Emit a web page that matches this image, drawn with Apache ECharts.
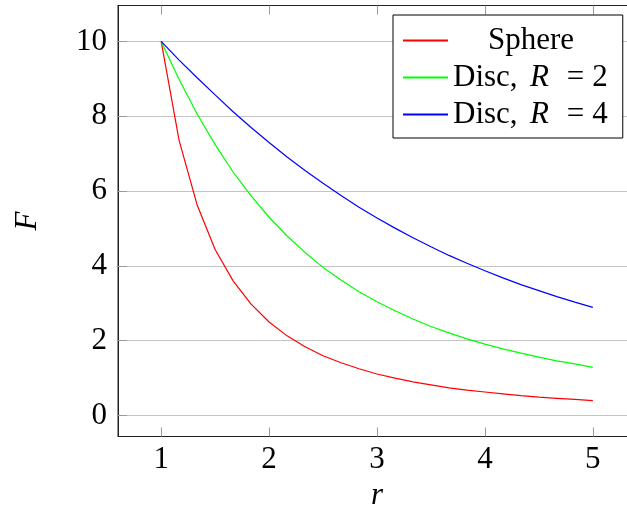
<!DOCTYPE html>
<html>
<head>
<meta charset="utf-8">
<script src="https://cdn.jsdelivr.net/npm/echarts@6/dist/echarts.min.js"></script>
<style>
  html, body { margin: 0; padding: 0; background: #fff; }
  #chart { width: 627px; height: 505px; }
</style>
</head>
<body>
<div id="chart"></div>
<script>
// sample positions along r (25 samples, 1..5)
const rValues = [1, 1.1667, 1.3333, 1.5, 1.6667, 1.8333, 2, 2.1667, 2.3333, 2.5, 2.6667, 2.8333, 3,
  3.1667, 3.3333, 3.5, 3.6667, 3.8333, 4, 4.1667, 4.3333, 4.5, 4.6667, 4.8333, 5];
const sphere = [10, 7.35, 5.63, 4.44, 3.6, 2.98, 2.5, 2.13, 1.84, 1.6, 1.41, 1.25, 1.11,
  1.0, 0.9, 0.82, 0.74, 0.68, 0.63, 0.58, 0.53, 0.49, 0.46, 0.43, 0.4];
const discR2 = [10, 8.98, 8.06, 7.24, 6.51, 5.87, 5.3, 4.8, 4.36, 3.96, 3.62, 3.31, 3.04,
  2.8, 2.58, 2.38, 2.21, 2.05, 1.91, 1.78, 1.67, 1.56, 1.46, 1.38, 1.29];
const discR4 = [10, 9.5, 9.03, 8.57, 8.12, 7.7, 7.3, 6.91, 6.55, 6.21, 5.88, 5.57, 5.28,
  5.01, 4.75, 4.51, 4.28, 4.07, 3.87, 3.68, 3.5, 3.34, 3.18, 3.03, 2.89];
const seriesNames = ['Sphere', 'Disc, R = 2', 'Disc, R = 4'];
const xTicks = [1, 2, 3, 4, 5];
const yTicks = [0, 2, 4, 6, 8, 10];

const font = 'Liberation Serif';
const fs = 31;

function pairs(ys) {
  return rValues.map((x, i) => [x, ys[i]]);
}

const chart = echarts.init(document.getElementById('chart'));

const tickStyle = { show: true, inside: true, length: 9, lineStyle: { color: '#999', width: 1 } };
const frameLine = { show: true, onZero: false, lineStyle: { color: '#222', width: 1 } };
const txt = { fontFamily: font, fontSize: fs, color: '#000' };

chart.setOption({
  animation: false,
  grid: {
    left: 118, top: 5.5, width: 518, height: 431,
    outerBoundsMode: 'none',
    show: true, borderColor: '#222', borderWidth: 1, containLabel: false
  },
  legend: {
    orient: 'vertical',
    left: 393, top: 15,
    padding: [10, 15, 8, 9],
    itemWidth: 45, itemHeight: 31, itemGap: 6,
    backgroundColor: '#fff',
    borderColor: '#000', borderWidth: 1,
    borderRadius: 0,
    itemStyle: { opacity: 0 },
    data: seriesNames,
    formatter: function (name) {
      if (name === 'Sphere') return '{c|Sphere}';
      const num = name.slice(-1);
      return '{d|Disc,}{i|R}{e|=}{n|' + num + '}';
    },
    textStyle: Object.assign({}, txt, {
      rich: {
        d: Object.assign({ width: 77, align: 'left' }, txt),
        i: Object.assign({ width: 30, align: 'left', fontStyle: 'italic' }, txt),
        e: Object.assign({ width: 31, align: 'center' }, txt),
        n: Object.assign({ width: 18, align: 'left' }, txt),
        c: Object.assign({ width: 156, align: 'center' }, txt)
      }
    })
  },
  xAxis: [{
    type: 'value', min: 0.6, max: 5.4, position: 'bottom',
    name: 'r', nameLocation: 'middle', nameGap: 37,
    nameTextStyle: Object.assign({ fontStyle: 'italic' }, txt),
    axisLine: frameLine,
    axisTick: Object.assign({ customValues: xTicks }, tickStyle),
    axisLabel: Object.assign({ customValues: xTicks, margin: 8 }, txt),
    splitLine: { show: false }
  }, {
    type: 'value', min: 0.6, max: 5.4, position: 'top',
    axisLine: frameLine,
    axisTick: Object.assign({ customValues: xTicks }, tickStyle),
    axisLabel: { show: false },
    splitLine: { show: false }
  }],
  yAxis: {
    type: 'value', min: -0.56, max: 10.96,
    name: 'F', nameLocation: 'middle', nameGap: 75,
    nameTextStyle: Object.assign({ fontStyle: 'italic' }, txt),
    axisLine: frameLine,
    axisTick: Object.assign({ customValues: yTicks }, tickStyle),
    axisLabel: Object.assign({ customValues: yTicks, margin: 11 }, txt),
    splitLine: { show: true, lineStyle: { color: '#c4c4c4', width: 1 } }
  },
  series: [
    { name: seriesNames[0], type: 'line', data: pairs(sphere), showSymbol: false, symbol: 'none',
      lineStyle: { color: '#ff0000', width: 1.2 }, itemStyle: { color: '#ff0000' } },
    { name: seriesNames[1], type: 'line', data: pairs(discR2), showSymbol: false, symbol: 'none',
      lineStyle: { color: '#00ff00', width: 1.2 }, itemStyle: { color: '#00ff00' } },
    { name: seriesNames[2], type: 'line', data: pairs(discR4), showSymbol: false, symbol: 'none',
      lineStyle: { color: '#0000ff', width: 1.2 }, itemStyle: { color: '#0000ff' } }
  ]
});
</script>
</body>
</html>
